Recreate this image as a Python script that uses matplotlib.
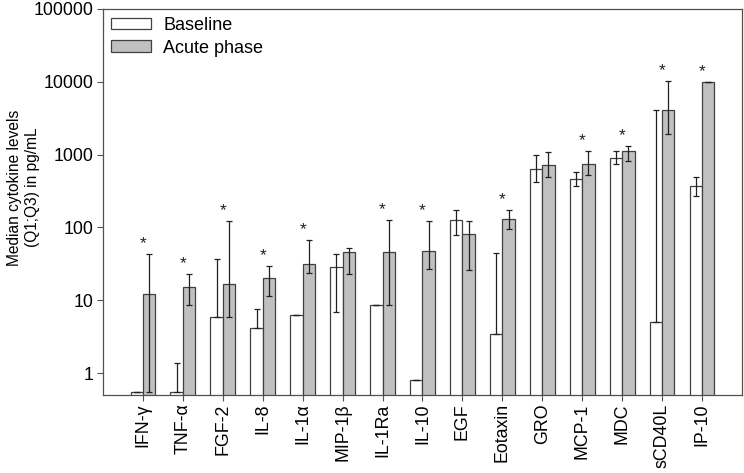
# Median cytokine levels, baseline vs acute phase (log scale)

import matplotlib
matplotlib.use("Agg")
from matplotlib import pyplot as plt
import numpy as np

plt.rcParams["font.family"] = ["Liberation Sans", "DejaVu Sans"]

citocinas = ["IFN-γ", "TNF-α", "FGF-2", "IL-8", "IL-1α", "MIP-1β", "IL-1Ra",
             "IL-10", "EGF", "Eotaxin", "GRO", "MCP-1", "MDC", "sCD40L", "IP-10"]

base_med = [0.55, 0.55, 5.9, 4.15, 6.3, 28.3, 8.6, 0.8, 125, 3.4, 630, 465, 905, 4.97, 370]
base_q1 = [0.55, 0.55, 5.9, 4.15, 6.3, 6.8, 8.6, 0.8, 78, 3.4, 416, 367, 750, 4.97, 271]
base_q3 = [0.55, 1.36, 37, 7.5, 6.3, 42.7, 8.6, 0.8, 175, 45, 977, 582, 1132, 4060, 497]

agudo_med = [12.2, 15.0, 16.9, 20.2, 31.4, 45.5, 46.4, 47.9, 80, 132, 719, 743, 1120, 4140, 10000]
agudo_q1 = [0.55, 8.5, 5.9, 11.4, 23.4, 22.9, 8.6, 26.6, 25.7, 96, 497, 525, 824, 1937, 10000]
agudo_q3 = [42.7, 22.7, 122, 29.8, 66.5, 52.6, 126, 123, 123, 173, 1096, 1132, 1325, 10230, 10000]

significativo = [True, True, True, True, True, False, True, True, False, True,
                 False, True, True, True, True]

COR_BORDA = "#404040"
COR_EIXO = "#505050"

fig = plt.figure(figsize=(7.44, 4.73), dpi=100)
ax = fig.add_axes([0.1384, 0.165, 0.8589, 0.816])
ax.set_yscale("log")

x = np.arange(len(citocinas))
w = 0.31

ax.bar(x - w / 2, base_med, w, color="white", edgecolor=COR_BORDA,
       linewidth=0.9, label="Baseline", zorder=2)
ax.bar(x + w / 2, agudo_med, w, color="#c0c0c0", edgecolor=COR_BORDA,
       linewidth=0.9, label="Acute phase", zorder=2)

bm = np.array(base_med)
am = np.array(agudo_med)
ax.errorbar(x - w / 2, bm, yerr=[bm - np.array(base_q1), np.array(base_q3) - bm],
            fmt="none", ecolor="#202020", elinewidth=0.9, capsize=2.2, capthick=0.9, zorder=3)
ax.errorbar(x + w / 2, am, yerr=[am - np.array(agudo_q1), np.array(agudo_q3) - am],
            fmt="none", ecolor="#202020", elinewidth=0.9, capsize=2.2, capthick=0.9, zorder=3)

# asteriscos acima do maior quartil superior
for i, sig in enumerate(significativo):
    if sig:
        topo = max(agudo_q3[i], agudo_med[i], base_q3[i])
        ax.annotate("*", (x[i], topo), xytext=(0, 2), textcoords="offset points",
                    ha="center", va="bottom", fontsize=12.5, color="#202020")

ax.set_xlim(-1, 15)
ax.set_ylim(0.5, 100000)
ax.set_yticks([1, 10, 100, 1000, 10000, 100000])
ax.set_yticklabels(["1", "10", "100", "1000", "10000", "100000"])
ax.minorticks_off()
ax.set_xticks(x)
ax.set_xticklabels(citocinas, rotation=90)

ax.tick_params(axis="y", direction="out", length=4.5, width=0.8, color=COR_EIXO,
               labelsize=12.8, pad=2.5)
ax.tick_params(axis="x", direction="out", length=4, width=0.8, color=COR_EIXO,
               labelsize=12.8, pad=2)
for s in ax.spines.values():
    s.set_color(COR_EIXO)
    s.set_linewidth(0.9)

ax.set_ylabel("Median cytokine levels\n(Q1;Q3) in pg/mL", fontsize=11.2)
ax.yaxis.set_label_coords(-0.099, 0.5376)

ax.legend(loc="upper left", frameon=False, fontsize=13, handlelength=2.2,
          handleheight=0.6, handletextpad=0.7, labelspacing=0.3,
          borderaxespad=0.3, borderpad=0.15)

fig.savefig("out.png", dpi=100)
plt.close(fig)
